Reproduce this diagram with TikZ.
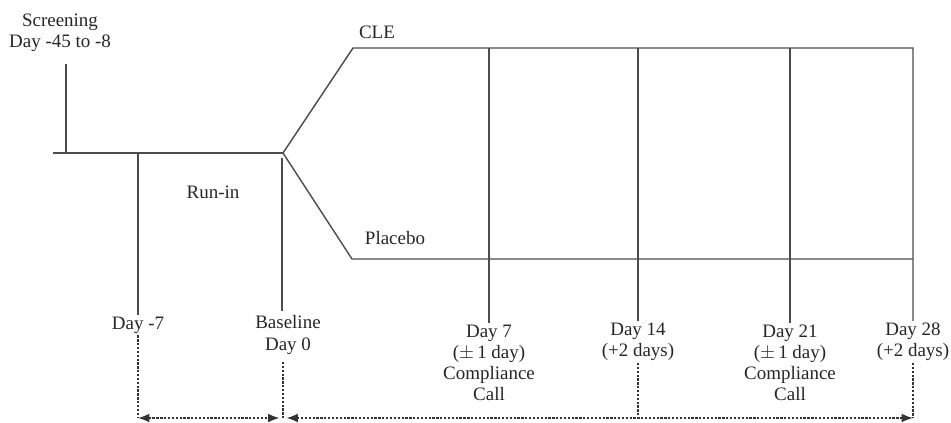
\documentclass[tikz,border=0pt]{standalone}
\usepackage{fontspec}
\setmainfont{Liberation Serif}
\usetikzlibrary{arrows.meta}

\begin{document}
\begin{tikzpicture}[x=0.02cm,y=-0.02cm,
	every node/.style={font=\fontsize{10.8}{12}\selectfont, align=center, inner sep=1pt, text=black!85},
	arm/.style={line width=0.8pt, draw=black!70},
	dots/.style={line width=0.9pt, draw=black!80, dash pattern=on 1.3pt off 0.9pt},
	span/.style={dots, >={Latex[length=6.5pt,width=5pt]}, <->}]
	\useasboundingbox (0,0) rectangle (951,423);
	% labels
	\node (scr) at (60,33) {Screening\\Day -45 to -8};
	\node (cle) at (377,32) {CLE};
	\node (runin) at (213,192) {Run-in};
	\node (plac) at (395,238) {Placebo};
	\node (dm7) at (138,325) {Day -7};
	\node (base) at (288,335) {Baseline\\Day 0};
	\node (d7) at (489,363) {Day 7\\($\pm$\,1 day)\\Compliance\\Call};
	\node (d14) at (638,342) {Day 14\\(+2 days)};
	\node (d21) at (790,363) {Day 21\\($\pm$\,1 day)\\Compliance\\Call};
	\node (d28) at (913,342) {Day 28\\(+2 days)};
	% time line and arms
	\coordinate (split) at (283,153);
	\draw [arm] (53,153) -- (split);
	\draw [arm] (66,64) -- (66,153);
	\draw [arm] (split) -- (353,48) -- (913,48) -- (d28.north);
	\draw [arm] (split) -- (352,259) -- (913,259);
	\draw [arm] (138,153) -- (dm7.north);
	\draw [arm] (282,158) -- (282,311);
	\foreach \n in {d7,d14,d21}{
		\draw [arm] (\n.north |- 0,48) -- (\n.north);
	}
	% dotted spans
	\coordinate (a0) at (138,418);
	\coordinate (a1) at (283,418);
	\coordinate (a2) at (913,418);
	\draw [dots] (dm7.south) -- (a0);
	\draw [dots] (283,362) -- (a1);
	\draw [dots] (d14.south) -- (d14.south |- a2);
	\draw [dots] (d28.south) -- (a2);
	\draw [span] (a0) -- ([xshift=-2]a1);
	\draw [span] ([xshift=2]a1) -- (a2);
\end{tikzpicture}
\end{document}
